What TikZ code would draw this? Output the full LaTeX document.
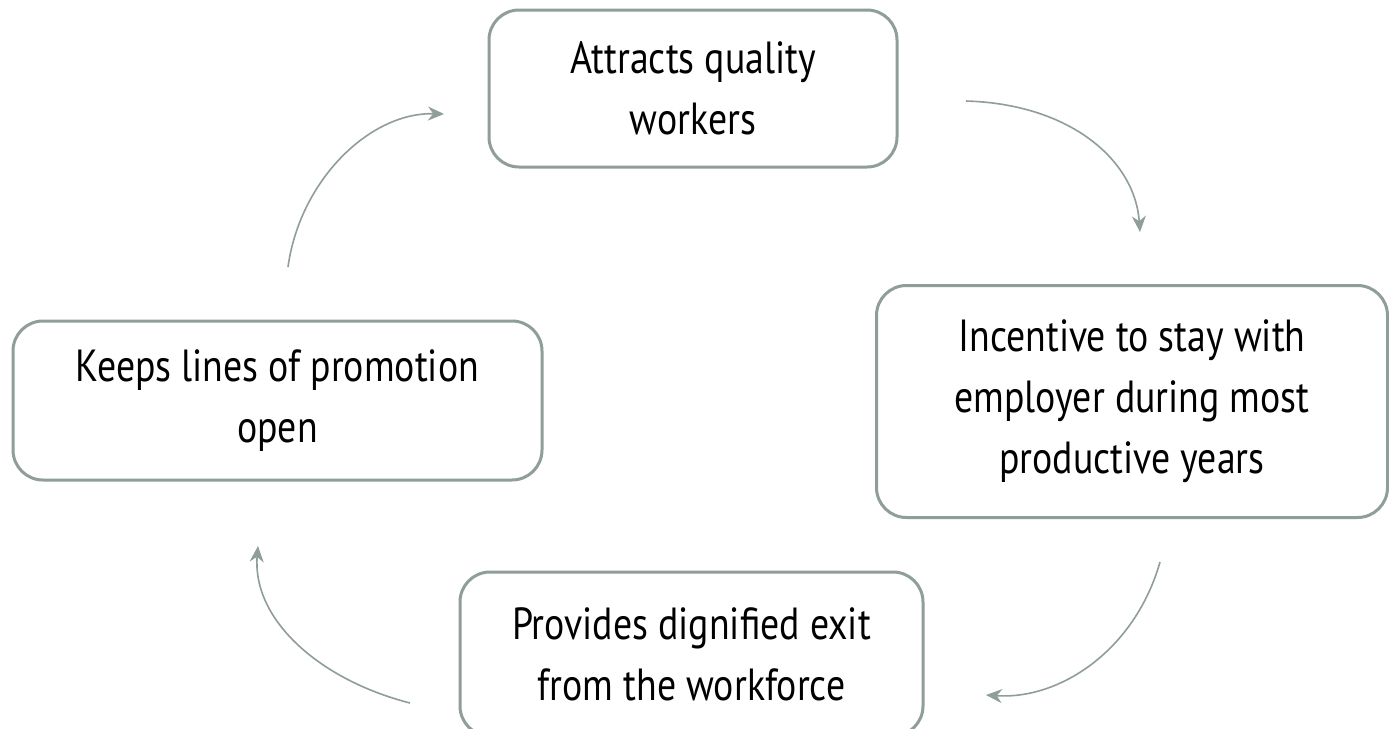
\documentclass[tikz,border=0pt]{standalone}
\usepackage{fontspec}
\setmainfont{PT Sans}[FakeStretch=0.84]
\usetikzlibrary{arrows.meta}
\definecolor{edgecol}{RGB}{143,158,150}
\tikzset{
  box/.style={draw=edgecol, line width=1.5pt, rounded corners=15pt, align=center,
    inner sep=0pt, font=\fontsize{22.5pt}{30.5pt}\selectfont, text=black},
  cyc/.style={draw=edgecol, line width=0.8pt, -{Stealth[length=8pt,width=7pt]}}
}
\begin{document}
\begin{tikzpicture}[x=0.5pt,y=-0.5pt]
\useasboundingbox (0,0) rectangle (1389,729);
\clip (0,0) rectangle (1389,729);
\fill[white] (0,0) rectangle (1389,729);
\node[box, minimum width=204pt, minimum height=78.5pt] (top) at (693,88.5) {Attracts quality\\workers};
\node[box, minimum width=255.5pt, minimum height=116pt] (right) at (1132,401.5) {Incentive to stay with\\employer during most\\productive years};
\node[box, minimum width=264.5pt, minimum height=79.5pt] (left) at (277.5,400.5) {Keeps lines of promotion\\open};
\node[box, minimum width=231.5pt, minimum height=82pt] (bottom) at (691.5,654) {Provides dignified exit\\from the workforce};
\coordinate (a1s) at (966,101);
\coordinate (a1e) at (1140,232);
\coordinate (a2s) at (1160,562);
\coordinate (a2e) at (986,695);
\coordinate (a3s) at (410,703);
\coordinate (a3e) at (258,546);
\coordinate (a4s) at (288,267);
\coordinate (a4e) at (444,114);
\draw[cyc] (a1s) .. controls (1070,104) and (1135,160) .. (a1e);
\draw[cyc] (a2s) .. controls (1135,650) and (1060,700) .. (a2e);
\draw[cyc] (a3s) .. controls (320,680) and (252,620) .. (a3e);
\draw[cyc] (a4s) .. controls (300,180) and (370,112) .. (a4e);
\end{tikzpicture}
\end{document}
